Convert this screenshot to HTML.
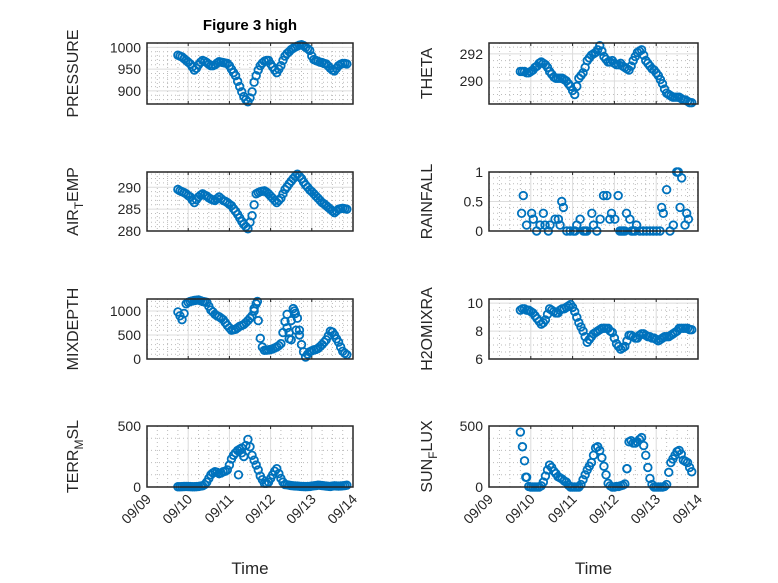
<!DOCTYPE html>
<html><head><meta charset="utf-8"><style>
body{margin:0;background:#fff;}
svg{display:block;font-family:"Liberation Sans",sans-serif;}
</style></head><body>
<svg id="fig" width="778" height="583" xmlns="http://www.w3.org/2000/svg">
<rect width="778" height="583" fill="#fff"/>
<text x="250" y="30" font-size="15" font-weight="bold" text-anchor="middle" fill="#000">Figure 3 high</text>
</svg>
<script>
const tGrid=[0.75,0.85,0.95,1.05,1.15,1.25,1.35,1.45,1.55,1.65,1.75,1.85,1.95,2.05,2.15,2.25,2.35,2.45,2.55,2.65,2.75,2.85,2.95,3.05,3.15,3.25,3.35,3.45,3.55,3.65,3.75,3.85,3.95,4.05,4.15,4.25,4.35,4.45,4.55,4.65,4.75,4.85];
const tHalf=[0.80,0.90,1.00,1.10,1.20,1.30,1.40,1.50,1.60,1.70,1.80,1.90,2.00,2.10,2.20,2.30,2.40,2.50,2.60,2.70,2.80,2.90,3.00,3.10,3.20,3.30,3.40,3.50,3.60,3.70,3.80,3.90,4.00,4.10,4.20,4.30,4.40,4.50,4.60,4.70,4.80];
const pressure=[982,978,970,962,948,960,970,965,958,960,967,965,963,950,935,910,887,875,898,935,958,968,970,955,942,958,980,990,998,1003,1006,1000,993,972,968,965,962,952,946,958,963,962];
const pressureHalf=[980,974,966,955,952,966,968,961,958,964,966,964,958,942,922,898,880,884,920,948,964,970,962,948,950,970,986,995,1001,1005,1004,997,980,970,966,963,957,948,952,961,963];
const theta=[290.7,290.7,290.6,290.8,291.1,291.4,291.2,290.7,290.3,290.2,290.2,290.0,289.6,289.0,290.2,290.6,291.5,291.9,292.1,292.6,291.8,291.4,291.5,291.2,291.3,291.0,290.8,291.5,292.1,292.3,291.5,291.1,290.8,290.4,289.8,289.1,288.9,288.8,288.8,288.6,288.5,288.4];
const thetaHalf=[290.7,290.6,290.7,291.0,291.3,291.3,291.0,290.5,290.2,290.2,290.1,289.8,289.3,289.6,290.4,291.0,291.7,292.0,292.3,292.2,291.6,291.4,291.3,291.2,291.1,290.9,291.1,291.8,292.2,291.9,291.3,290.9,290.6,290.1,289.4,289.0,288.8,288.8,288.7,288.6,288.4];
const airTemp=[289.5,289,288.5,287.8,286.5,287.8,288.5,288,287.3,287,287.8,287,286.5,285.8,284.5,283,281.5,280.5,283.5,288.5,289,289.2,288.5,287.5,286.5,287.5,289.5,290.8,292,293,292,290.5,289.4,288.5,287.5,286.5,285.8,285,284.2,285,285.2,285];
const airTempHalf=[289.2,288.8,288.1,287.1,287.2,288.2,288.2,287.6,287.1,287.4,287.4,286.8,286.1,285.1,283.8,282.2,281,282,286,288.8,289.1,288.9,288,287,287,288.5,290.1,291.4,292.5,292.5,291.2,290,289,288,287,286.2,285.4,284.6,284.6,285.1,285.1];
const rainT=[0.78,0.82,0.90,1.02,1.06,1.14,1.22,1.30,1.34,1.42,1.46,1.58,1.66,1.70,1.74,1.78,1.86,1.94,2.02,2.06,2.10,2.18,2.26,2.30,2.34,2.46,2.50,2.58,2.66,2.74,2.82,2.89,2.93,3.01,3.09,3.13,3.17,3.21,3.25,3.29,3.37,3.41,3.45,3.49,3.53,3.61,3.69,3.77,3.85,3.93,4.01,4.09,4.13,4.17,4.25,4.33,4.41,4.49,4.53,4.57,4.61,4.69,4.73,4.77];
const rainfall=[0.3,0.6,0.1,0.3,0.2,0,0.1,0.3,0.1,0,0.1,0.2,0.2,0.1,0.5,0.4,0,0,0,0,0.1,0.2,0,0,0,0.3,0.1,0,0.2,0.6,0.6,0.2,0.3,0.2,0.6,0,0,0,0,0.3,0.2,0,0,0,0.1,0,0,0,0,0,0,0,0.4,0.3,0.7,0,0.1,1.0,1.0,0.4,0.9,0.1,0.3,0.2];
const mixDepth=[980,820,1150,1200,1220,1230,1200,1180,1020,930,880,820,700,600,620,680,720,800,900,1150,430,180,190,210,250,320,780,550,1050,850,300,40,150,190,220,300,400,580,500,350,160,90];
const mixHalf=[900,950,1180,1210,1225,1215,1190,1100,980,900,850,760,650,610,650,700,760,850,1050,800,250,185,200,230,280,550,650,800,950,600,150,100,170,200,260,350,480,560,420,250,120];
const mixExtraT=[2.60,2.68,3.40,3.45,3.50,3.58,3.62,3.70];
const mixExtra=[1000,1200,930,420,400,1000,600,500];
const h2oMix=[9.5,9.6,9.5,9.3,8.9,8.5,8.8,9.6,9.4,9.3,9.6,9.7,9.9,9.4,8.6,8.0,7.2,7.6,7.9,8.1,8.2,8.2,7.9,7.1,6.7,6.9,7.7,7.6,7.5,7.8,7.7,7.6,7.5,7.3,7.5,7.6,7.7,7.9,8.2,8.2,8.2,8.1];
const h2oHalf=[9.6,9.5,9.4,9.1,8.7,8.6,9.2,9.5,9.3,9.5,9.6,9.8,9.7,9.0,8.3,7.6,7.4,7.8,8.0,8.2,8.2,8.0,7.5,6.9,6.8,7.3,7.7,7.5,7.7,7.8,7.6,7.5,7.4,7.4,7.6,7.6,7.8,8.0,8.2,8.2,8.1];
const terrMsl=[2,3,5,3,2,5,10,40,100,125,110,125,140,230,280,310,250,390,260,180,90,30,40,100,150,70,20,15,10,8,5,3,5,10,15,12,8,5,10,8,10,15];
const terrHalf=[2,4,4,2,3,8,20,70,115,120,115,130,180,260,300,280,340,330,220,140,60,30,70,130,110,40,18,12,9,6,4,4,8,12,14,10,6,8,9,9,12];
const terrExtraT=[2.22,2.30];
const terrExtra=[100,320];
const sunFlux=[450,215,5,0,0,10,90,180,130,85,65,40,0,0,0,60,140,200,320,300,170,30,0,5,10,25,370,360,370,405,260,70,0,0,0,20,200,260,300,220,200,125];
const sunHalf=[330,80,0,0,0,40,140,160,110,75,50,15,0,0,20,100,170,260,330,240,100,10,0,5,15,150,380,360,390,340,160,20,0,0,5,120,230,290,270,210,160];
const sunExtraT=[0.88,3.30];
const sunExtra=[80,150];
const xTicks=["09/09","09/10","09/11","09/12","09/13","09/14"];

const NS="http://www.w3.org/2000/svg";
const svg=document.getElementById('fig');
function mk(tag,attrs,parent){const e=document.createElementNS(NS,tag);for(const k in attrs)e.setAttribute(k,attrs[k]);(parent||svg).appendChild(e);return e;}

const panels=[
 {name:'pressure',x0:147,x1:353,y0:43,y1:104,ymin:870,ymax:1010,ticks:[900,950,1000],minor:10,label:['PRESSURE'],lx:78,t:tGrid.concat(tHalf),v:pressure.concat(pressureHalf)},
 {name:'theta',x0:489,x1:698,y0:43,y1:104,ymin:288.3,ymax:292.8,ticks:[290,292],minor:0.5,label:['THETA'],lx:432,t:tGrid.concat(tHalf),v:theta.concat(thetaHalf)},
 {name:'air-temp',x0:147,x1:353,y0:172,y1:231,ymin:280,ymax:293.5,ticks:[280,285,290],minor:1,label:['AIR','T','EMP'],lx:78,t:tGrid.concat(tHalf),v:airTemp.concat(airTempHalf)},
 {name:'rainfall',x0:489,x1:698,y0:172,y1:231,ymin:0,ymax:1,ticks:[0,0.5,1],minor:0.1,label:['RAINFALL'],lx:432,t:rainT,v:rainfall},
 {name:'mixdepth',x0:147,x1:353,y0:299,y1:359,ymin:0,ymax:1250,ticks:[0,500,1000],minor:100,label:['MIXDEPTH'],lx:78,t:tGrid.concat(tHalf,mixExtraT),v:mixDepth.concat(mixHalf,mixExtra)},
 {name:'h2omixra',x0:489,x1:698,y0:299,y1:359,ymin:6,ymax:10.3,ticks:[6,8,10],minor:0.5,label:['H2OMIXRA'],lx:432,t:tGrid.concat(tHalf),v:h2oMix.concat(h2oHalf)},
 {name:'terr-msl',x0:147,x1:353,y0:426,y1:487,ymin:0,ymax:500,ticks:[0,500],minor:100,label:['TERR','M','SL'],lx:78,t:tGrid.concat(tHalf,terrExtraT),v:terrMsl.concat(terrHalf,terrExtra),xlab:true},
 {name:'sun-flux',x0:489,x1:698,y0:426,y1:487,ymin:0,ymax:500,ticks:[0,500],minor:100,label:['SUN','F','LUX'],lx:432,t:tGrid.concat(tHalf,sunExtraT),v:sunFlux.concat(sunHalf,sunExtra),xlab:true}
];

panels.forEach(p=>{
  const g=mk('g',{});
  
  
  const xs=t=>p.x0+(t/5)*(p.x1-p.x0);
  const ys=v=>p.y1-(v-p.ymin)/(p.ymax-p.ymin)*(p.y1-p.y0);
  mk('rect',{x:p.x0,y:p.y0,width:p.x1-p.x0,height:p.y1-p.y0,fill:'#fff'},g);
  for(let d=0;d<5;d+=0.25){if(Math.abs(d-Math.round(d))<1e-6)continue;const x=xs(d);
    mk('line',{x1:x,x2:x,y1:p.y0,y2:p.y1,stroke:'#bbb','stroke-width':1,'stroke-dasharray':'1 3'},g);}
  const start=Math.ceil(p.ymin/p.minor)*p.minor;
  for(let v=start;v<=p.ymax+1e-9;v+=p.minor){if(p.ticks.some(tk=>Math.abs(tk-v)<1e-6))continue;const y=ys(v);
    mk('line',{x1:p.x0,x2:p.x1,y1:y,y2:y,stroke:'#bbb','stroke-width':1,'stroke-dasharray':'1 3'},g);}
  for(let d=1;d<5;d++){const x=xs(d);mk('line',{x1:x,x2:x,y1:p.y0,y2:p.y1,stroke:'#dcdcdc','stroke-width':1},g);
    mk('line',{x1:x,x2:x,y1:p.y1,y2:p.y1-3,stroke:'#262626','stroke-width':1},g);mk('line',{x1:x,x2:x,y1:p.y0,y2:p.y0+3,stroke:'#262626','stroke-width':1},g);}
  p.ticks.forEach(tk=>{const y=ys(tk);
    mk('line',{x1:p.x0,x2:p.x1,y1:y,y2:y,stroke:'#dcdcdc','stroke-width':1},g);
    const lab=mk('text',{x:p.x0-6,y:y+5,'font-size':14,'text-anchor':'end',fill:'#262626'},g);
    
    
    lab.textContent=String(tk);});
  for(let i=0;i<p.v.length;i++){
    const c=mk('circle',{cx:xs(p.t[i]),cy:ys(p.v[i]),r:3.8,fill:'none',stroke:'#0072BD','stroke-width':1.8},g);
    
    
  }
  mk('rect',{x:p.x0,y:p.y0,width:p.x1-p.x0,height:p.y1-p.y0,fill:'none',stroke:'#262626','stroke-width':1.5},g);
  const cy=(p.y0+p.y1)/2, lx=p.lx;
  const yl=mk('text',{x:0,y:0,'font-size':16,'text-anchor':'middle',fill:'#262626',transform:`translate(${lx},${cy}) rotate(-90)`},g);
  
  
  if(p.label.length===1){yl.textContent=p.label[0];}
  else{const a=mk('tspan',{},yl);a.textContent=p.label[0];
    const b=mk('tspan',{dy:5,'font-size':12},yl);b.textContent=p.label[1];
    const c2=mk('tspan',{dy:-5},yl);c2.textContent=p.label[2];}
  if(p.xlab){
    xTicks.forEach((s,i)=>{const x=xs(i);
      const tl=mk('text',{x:0,y:0,'font-size':14,'text-anchor':'end',fill:'#262626',transform:`translate(${x+5},${p.y1+13}) rotate(-45)`},g);
      
      
      tl.textContent=s;});
    const xl=mk('text',{x:(p.x0+p.x1)/2,y:574,'font-size':17,'text-anchor':'middle',fill:'#262626'},g);
    
    
    xl.textContent='Time';
  }
});
</script>
</body></html>
